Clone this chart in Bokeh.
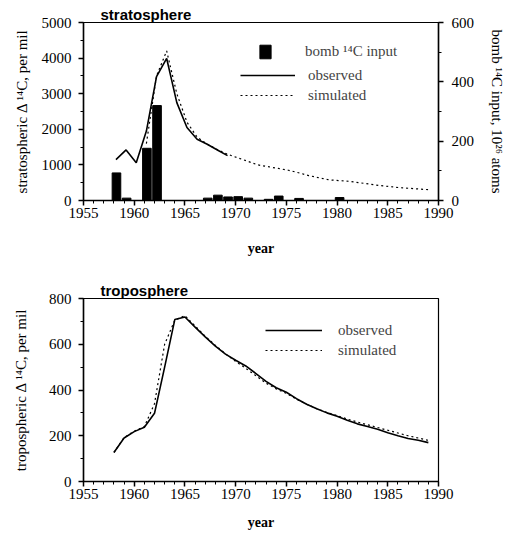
from bokeh.plotting import figure
from bokeh.models import (Range1d, LinearAxis, Legend, LegendItem,
                          SingleIntervalTicker, ColumnDataSource)
from bokeh.layouts import column
from bokeh.embed import file_html
from bokeh.resources import INLINE

# ---------------- data ----------------
strat_obs_years = [1958, 1959, 1960, 1961, 1962, 1963, 1964, 1965, 1966, 1967, 1968, 1969]
strat_obs = [1150, 1420, 1060, 1950, 3480, 3990, 2750, 2050, 1720, 1580, 1420, 1260]

strat_sim_years = list(range(1961, 1990))
strat_sim = [1600, 3500, 4200, 3000, 2200, 1780, 1580, 1430, 1300, 1200, 1100, 1000,
             950, 900, 850, 780, 700, 640, 580, 560, 540, 500, 460, 420, 390, 360,
             340, 320, 300]

bomb_years = [1958, 1959, 1961, 1962, 1967, 1968, 1969, 1970, 1971, 1973, 1974, 1976, 1980]
bomb_input = [93, 8, 176, 320, 8, 18, 12, 13, 8, 4, 15, 7, 10]

tropo_years = list(range(1958, 1990))
tropo_obs = [127, 190, 218, 237, 298, 500, 708, 719, 675, 632, 592, 557, 530, 505,
             472, 438, 410, 390, 362, 338, 318, 300, 285, 268, 252, 240, 228, 213,
             200, 188, 180, 170]
tropo_sim = [127, 192, 220, 240, 340, 600, 705, 725, 680, 635, 595, 558, 525, 495,
             462, 430, 405, 385, 360, 338, 318, 302, 288, 273, 260, 248, 236, 224,
             212, 200, 190, 180]

SERIF = "Liberation Serif"
SANS = "Liberation Sans"
STRAT_SHIFT = 0.2   # stratospheric samples plotted slightly after year start


def style_axis(ax, tick_interval, minor):
    ax.ticker = SingleIntervalTicker(interval=tick_interval, num_minor_ticks=minor)
    ax.axis_line_color = "black"
    ax.axis_line_width = 1.5
    ax.major_tick_line_color = "black"
    ax.major_tick_line_width = 1.5
    ax.minor_tick_line_color = "black"
    ax.major_tick_out = 5
    ax.major_tick_in = 0
    ax.minor_tick_out = 3
    ax.minor_tick_in = 0
    ax.major_label_text_font = SERIF
    ax.major_label_text_font_size = "15px"
    ax.major_label_text_color = "black"
    ax.axis_label_text_font = SERIF
    ax.axis_label_text_font_size = "15px"
    ax.axis_label_text_font_style = "normal"
    ax.axis_label_text_color = "black"


def base_fig(height, ymax, top, bottom, title, year_standoff):
    p = figure(width=508, height=height, x_range=Range1d(1955, 1990),
               y_range=Range1d(0, ymax), output_backend="svg",
               toolbar_location=None, min_border_left=83, min_border_right=66,
               min_border_top=top, min_border_bottom=bottom)
    p.xgrid.visible = False
    p.ygrid.visible = False
    p.outline_line_color = "black"
    p.outline_line_width = 1.2
    p.background_fill_color = "white"
    p.border_fill_color = "white"
    p.title.text = title
    p.title.align = "left"
    p.title.offset = 17
    p.title.standoff = 0
    p.title.text_font = SANS
    p.title.text_font_style = "bold"
    p.title.text_font_size = "15px"
    p.title.text_color = "black"
    xa = p.xaxis[0]
    style_axis(xa, 5, 5)
    xa.axis_label = "year"
    xa.axis_label_text_font_style = "bold"
    xa.axis_label_text_font_size = "14px"
    xa.major_label_standoff = 2
    xa.axis_label_standoff = year_standoff
    return p


def make_legend(items, loc, gw, gh, standoff):
    return Legend(items=items, location=loc, glyph_width=gw, glyph_height=gh,
                  label_height=gh, label_standoff=standoff, padding=0, margin=0,
                  spacing=0, border_line_alpha=0, background_fill_alpha=0,
                  label_text_font=SERIF, label_text_font_size="15px")


# ---------------- stratosphere ----------------
p1 = base_fig(258, 5000, 22, 56, "stratosphere", 20)
style_axis(p1.yaxis[0], 1000, 2)
p1.yaxis[0].axis_label = "stratospheric \u0394 \u00b9\u2074C, per mil"
p1.yaxis[0].major_label_standoff = 7
p1.yaxis[0].axis_label_standoff = 9

p1.extra_y_ranges = {"bomb": Range1d(0, 600)}
ra = LinearAxis(y_range_name="bomb")
style_axis(ra, 200, 2)
ra.axis_label = "bomb \u00b9\u2074C input, 10\u00b2\u2076 atoms"
ra.major_label_standoff = 8
ra.axis_label_standoff = 12
p1.add_layout(ra, "right")

bsrc = ColumnDataSource(dict(x=[y + 0.25 for y in bomb_years], top=bomb_input))
bars = p1.vbar(x="x", top="top", width=0.85, bottom=0, source=bsrc,
               y_range_name="bomb", fill_color="black", line_color="black")
obs1 = p1.line([y + STRAT_SHIFT for y in strat_obs_years], strat_obs,
               line_color="black", line_width=1.6)
sim1 = p1.line([y + STRAT_SHIFT for y in strat_sim_years], strat_sim,
               line_color="black", line_width=1.2, line_dash="2 3")

p1.add_layout(make_legend([LegendItem(label="bomb \u00b9\u2074C input", renderers=[bars])],
                          (175, 140), 14, 17, 33))
p1.add_layout(make_legend([LegendItem(label="observed", renderers=[obs1]),
                           LegendItem(label="simulated", renderers=[sim1])],
                          (157, 95), 55, 20, 13))

# ---------------- troposphere ----------------
p2 = base_fig(275, 800, 40, 52, "troposphere", 13)
style_axis(p2.yaxis[0], 200, 2)
p2.yaxis[0].axis_label = "tropospheric \u0394 \u00b9\u2074C, per mil"
p2.yaxis[0].major_label_standoff = 7
p2.yaxis[0].axis_label_standoff = 17

obs2 = p2.line(tropo_years, tropo_obs, line_color="black", line_width=1.6)
sim2 = p2.line(tropo_years, tropo_sim, line_color="black", line_width=1.2,
               line_dash="2 3")
p2.add_layout(make_legend([LegendItem(label="observed", renderers=[obs2]),
                           LegendItem(label="simulated", renderers=[sim2])],
                          (182, 121), 57, 20, 16))

layout = column(p1, p2, spacing=0)
open("out.html", "w").write(file_html(layout, INLINE))
